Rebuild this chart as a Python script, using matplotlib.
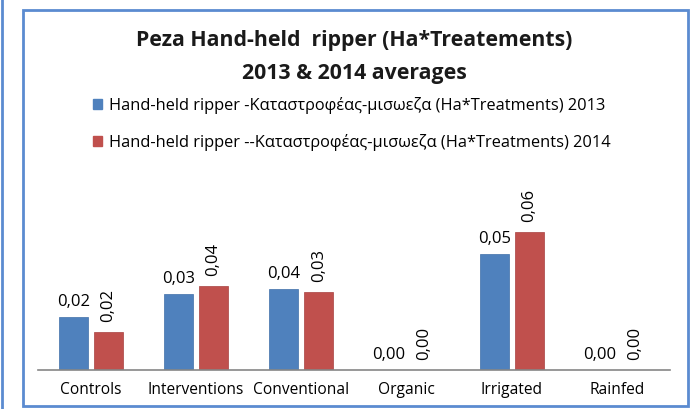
import matplotlib.pyplot as plt
from matplotlib.patches import Patch, Rectangle

categories = ['Controls', 'Interventions', 'Conventional', 'Organic', 'Irrigated', 'Rainfed']
vals_2013 = [0.023, 0.033, 0.0352, 0.0, 0.0504, 0.0]
vals_2014 = [0.0165, 0.0365, 0.0339, 0.0, 0.060, 0.0]
series_names = ['Hand-held ripper -Καταστροφέας-μισωεζα (Ha*Treatments) 2013',
                'Hand-held ripper --Καταστροφέας-μισωεζα (Ha*Treatments) 2014']
title = 'Peza Hand-held  ripper (Ha*Treatements)\n2013 & 2014 averages'

blue = '#4F81BD'
red = '#C0504D'
plt.rcParams['font.family'] = ['Open Sans', 'DejaVu Sans']

W, H = 695, 409
fig = plt.figure(figsize=(W / 100, H / 100), dpi=100)
fig.patch.set_facecolor('white')

# chart frame (Excel style border)
fig.patches.append(Rectangle((23 / W, 1 - 406 / H), (688 - 23) / W, (406 - 10) / H,
                             transform=fig.transFigure, fill=False, edgecolor='#5B8BD0', lw=2))
fig.add_artist(plt.Line2D([2 / W, 2 / W], [0, 1], transform=fig.transFigure, color='#5B8BD0', lw=2))

ax = fig.add_axes([38 / W, 1 - 370 / H, 632 / W, 190 / H])
x = range(len(categories))
w = 0.275
off = 0.166
b1 = ax.bar([i - off for i in x], vals_2013, w, color=blue, edgecolor='#3F6FA8', lw=0.5)
b2 = ax.bar([i + off for i in x], vals_2014, w, color=red, edgecolor='#A84040', lw=0.5)

for rect, v in zip(b1, vals_2013):
    ax.annotate(f'{v:.2f}'.replace('.', ','), (rect.get_x() + rect.get_width() / 2, rect.get_height()),
                xytext=(0, 5), textcoords='offset points', ha='center', va='bottom', fontsize=12)
for rect, v in zip(b2, vals_2014):
    ax.annotate(f'{v:.2f}'.replace('.', ','), (rect.get_x() + rect.get_width() / 2, rect.get_height()),
                xytext=(0, 7), textcoords='offset points', ha='center', va='bottom', fontsize=12,
                rotation=90)

ax.set_xlim(-0.5, len(categories) - 0.5)
ax.set_ylim(0, 190 / 2300)
ax.set_xticks(list(x))
ax.set_xticklabels(categories, fontsize=11.2)
ax.tick_params(axis='x', length=0, pad=9)
ax.set_yticks([])
for s in ['top', 'right', 'left']:
    ax.spines[s].set_visible(False)
ax.spines['bottom'].set_color('#868686')
ax.spines['bottom'].set_linewidth(1.2)
ax.patch.set_alpha(0)

fig.text(354 / W, 1 - 57 / H, title, ha='center', va='center', fontsize=15.3,
         fontweight='bold', linespacing=1.75, color='#1a1a1a')

handles = [Patch(color=blue), Patch(color=red)]
fig.legend(handles, series_names, loc='center', bbox_to_anchor=(352 / W, 1 - 124 / H),
           frameon=False, fontsize=11.8, handlelength=0.55, handleheight=0.55,
           handletextpad=0.4, labelspacing=1.2)

plt.savefig('out.png', dpi=100)
